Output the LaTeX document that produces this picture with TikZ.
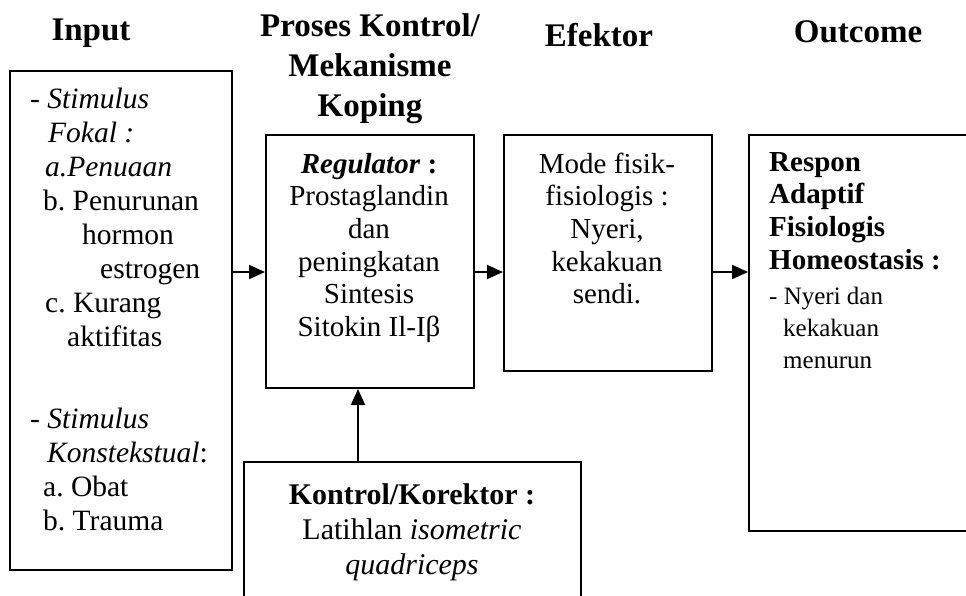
\documentclass[tikz,border=0pt]{standalone}
\usepackage{fontspec}
\setmainfont{Liberation Serif}
\usetikzlibrary{arrows.meta}
\frenchspacing
\begin{document}
\begin{tikzpicture}[x=1pt,y=-1pt,
  box/.style={draw,line width=2pt,inner sep=0pt,anchor=north west},
  arr/.style={line width=2pt,-{Triangle[length=16pt,width=14pt]}},
  hd/.style={font=\fontsize{33}{40}\selectfont\bfseries,align=center,inner sep=0pt},
  body/.style={font=\fontsize{29}{32.7}\selectfont,inner sep=0pt},
  inbody/.style={font=\fontsize{29.5}{34}\selectfont,inner sep=0pt},
  small/.style={font=\fontsize{25}{32}\selectfont,inner sep=0pt},
  kbody/.style={font=\fontsize{30}{35}\selectfont,inner sep=0pt}]
\path[use as bounding box] (0,0) rectangle (966,595);
\clip (0,0) rectangle (966,595);
% boxes
\node[box,minimum width=222pt,minimum height=499pt] (inp) at (9,70) {};
\node[box,minimum width=208pt,minimum height=253pt] (reg) at (265,134) {};
\node[box,minimum width=208pt,minimum height=236pt] (efk) at (503,134) {};
\node[box,minimum width=240pt,minimum height=396pt] (out) at (748,134) {};
\node[box,minimum width=337pt,minimum height=160pt] (kon) at (243,461) {};
% headers
\node[hd] (h1) at (91,33) {Input};
\node[hd] (h2) at (370,69) {Proses Kontrol/\\Mekanisme\\Koping};
\node[hd] (h3) at (599,35) {Efektor};
\node[hd] (h4) at (858,32) {Outcome};
% texts (anchor base = baseline of the last line)
\node[inbody,align=left,anchor=base west] (intext) at (30,530) {%
- \textit{Stimulus}\\
\hspace*{18pt}\textit{Fokal :}\\
\hspace*{15pt}\textit{a.Penuaan}\\
\hspace*{13pt}b. Penurunan\\
\hspace*{52pt}hormon\\
\hspace*{70pt}estrogen\\
\hspace*{15pt}c. Kurang\\
\hspace*{37pt}aktifitas\\[48pt]
- \textit{Stimulus}\\
\hspace*{17pt}\textit{Konstekstual}:\\
\hspace*{13pt}a. Obat\\
\hspace*{13pt}b. Trauma};
\node[body,align=center,anchor=base] (regtext) at (369,336.5)
  {\textbf{\textit{Regulator}} \textbf{:}\\Prostaglandin\\dan\\peningkatan\\Sintesis\\Sitokin Il-Iβ};
\node[body,align=center,anchor=base] (efktext) at (607,303.8)
  {Mode fisik-\\fisiologis :\\Nyeri,\\kekakuan\\sendi.};
\node[body,align=left,anchor=base west] (outtext) at (769,269.1)
  {\textbf{Respon}\\\textbf{Adaptif}\\\textbf{Fisiologis}\\\textbf{Homeostasis :}};
\node[small,align=left,anchor=base west] (outtext2) at (769,368)
  {- Nyeri dan\\\hspace*{14pt}kekakuan\\\hspace*{14pt}menurun};
\node[kbody,align=center,anchor=base] (kontext) at (412,574)
  {\textbf{Kontrol/Korektor :}\\Latihlan \textit{isometric}\\\textit{quadriceps}};
% arrows
\coordinate (ay) at (0,272);
\coordinate (ax) at (358,0);
\draw[arr] (inp.east |- ay) -- (reg.west |- ay);
\draw[arr] (reg.east |- ay) -- (efk.west |- ay);
\draw[arr] (efk.east |- ay) -- (out.west |- ay);
\draw[arr] (kon.north -| ax) -- (reg.south -| ax);
\end{tikzpicture}
\end{document}
